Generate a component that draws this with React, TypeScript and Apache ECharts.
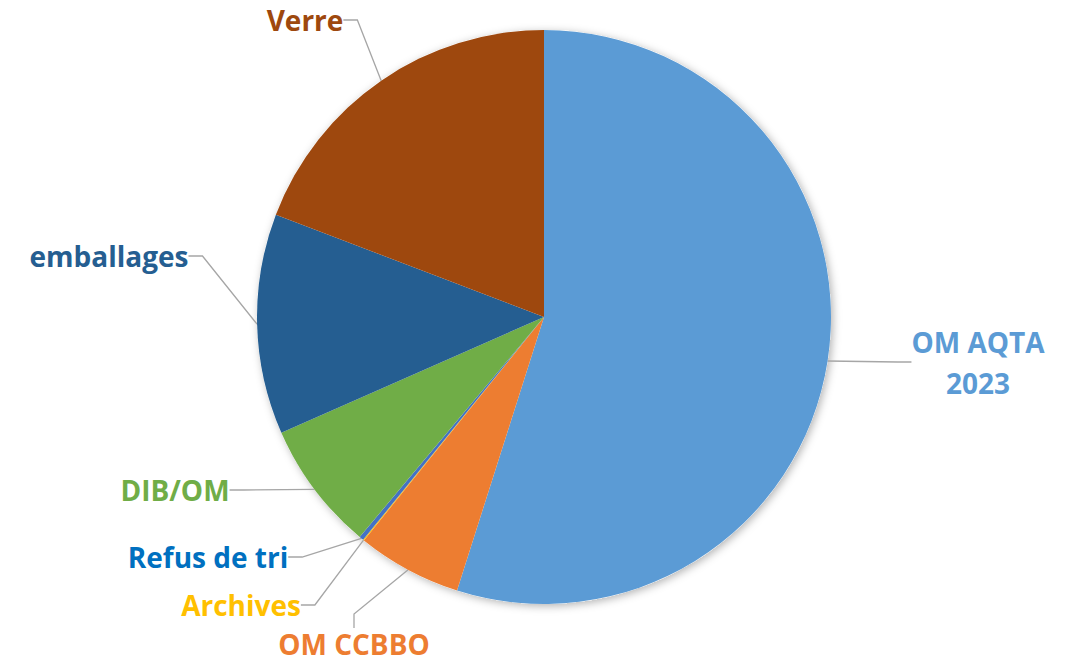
import React, { useEffect, useRef } from "react";
import * as echarts from "echarts";

const categories = ["OM AQTA\n2023", "OM CCBBO", "Archives", "Refus de tri", "DIB/OM", "emballages", "Verre"];
const values = [54.9, 5.9, 0.05, 0.25, 7.3, 12.4, 19.2];
const sliceColors = ["#5B9BD5", "#ED7D31", "#FFC000", "#4472C4", "#70AD47", "#255E91", "#9E480E"];
const labelColors = ["#5B9BD5", "#ED7D31", "#FFC000", "#0070C0", "#70AD47", "#255E91", "#9E480E"];
const labelPos: [number, number][] = [
  [978, 362],
  [354, 644],
  [241, 605],
  [208, 557],
  [175, 490],
  [109, 256],
  [305, 20],
];

export default function App() {
  const ref = useRef<HTMLDivElement>(null);
  useEffect(() => {
    if (!ref.current) return;
    const chart = echarts.init(ref.current, undefined, { renderer: "svg" });
    chart.setOption({
      animation: false,
      backgroundColor: "#ffffff",
      series: [
        {
          type: "pie",
          silent: true,
          center: [544, 317],
          radius: 287,
          z: 1,
          label: { show: false },
          labelLine: { show: false },
          itemStyle: {
            color: "#ffffff",
            shadowBlur: 8,
            shadowOffsetX: 2,
            shadowOffsetY: 2,
            shadowColor: "rgba(0,0,0,0.3)",
          },
          data: [{ value: 1, name: "bg" }],
        },
        {
          type: "pie",
          z: 2,
          center: [544, 317],
          radius: 287,
          startAngle: 90,
          clockwise: true,
          avoidLabelOverlap: false,
          itemStyle: { borderWidth: 0 },
          label: {
            show: true,
            fontFamily: "Open Sans",
            fontWeight: "bold",
            fontSize: 28,
            lineHeight: 32,
            align: "center",
          },
          labelLine: {
            show: true,
            length: 10,
            length2: 14,
            lineStyle: { color: "#A6A6A6", width: 1.3 },
          },
          labelLayout: (p: any) => {
            const pos = labelPos[p.dataIndex];
            return { x: pos[0], y: pos[1], align: "center", verticalAlign: "middle" };
          },
          data: categories.map((c, i) => ({
            name: c,
            value: values[i],
            itemStyle: { color: sliceColors[i] },
            label: i === 0 ? { color: labelColors[i], lineHeight: 41 } : { color: labelColors[i] },
          })),
        },
      ],
    });
    return () => chart.dispose();
  }, []);
  return (
    <div
      ref={ref}
      style={{ position: "fixed", left: 0, top: 0, width: 1077, height: 662 }}
    />
  );
}
